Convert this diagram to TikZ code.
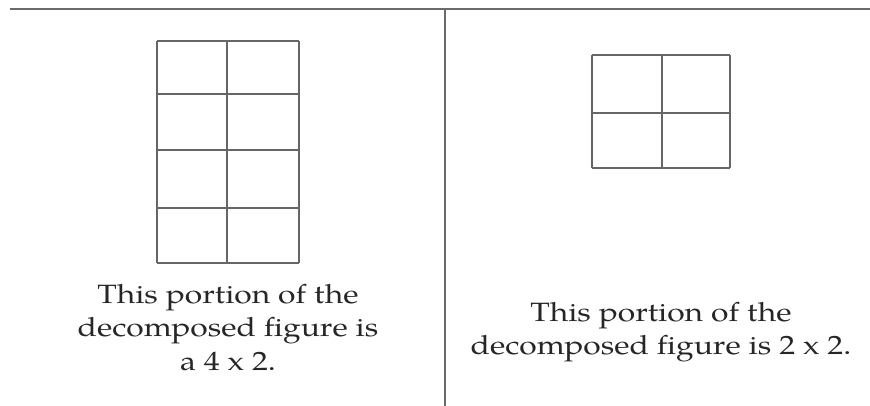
\documentclass[tikz,border=0pt]{standalone}
\usepackage{fontspec}
\setmainfont{TeX Gyre Pagella}
\begin{document}
\begin{tikzpicture}[x=1pt,y=-1pt,
  rule/.style={draw=black!58,line width=2.8pt},
  gridline/.style={draw=black!60,line width=2pt},
  caption/.style={align=center,inner sep=0pt,anchor=north,text=black!85,
    xscale=1.2,transform shape,
    font=\fontsize{26.5}{33.5}\selectfont}]
\useasboundingbox (0,0) rectangle (870,406);
% frame lines
\coordinate (tl) at (10,9);
\coordinate (tr) at (870,9);
\coordinate (vt) at (445,9);
\coordinate (vb) at (445,406);
\draw[rule] (tl) -- (tr);
\draw[rule,line width=2.5pt] (vt) -- (vb);
% left grid 4 x 2
\foreach \y in {41,94,150,208,263} \draw[gridline] (157,\y) -- (299,\y);
\foreach \x in {157,227,299} \draw[gridline] (\x,41) -- (\x,263);
% right grid 2 x 2
\foreach \y in {55,113,168} \draw[gridline] (592,\y) -- (730,\y);
\foreach \x in {592,662,730} \draw[gridline] (\x,55) -- (\x,168);
% captions
\node[caption] (capL) at (228,284) {This portion of the\\decomposed figure is\\a 4 x 2.};
\node[caption] (capR) at (661,302) {This portion of the\\decomposed figure is 2 x 2.};
\end{tikzpicture}
\end{document}
